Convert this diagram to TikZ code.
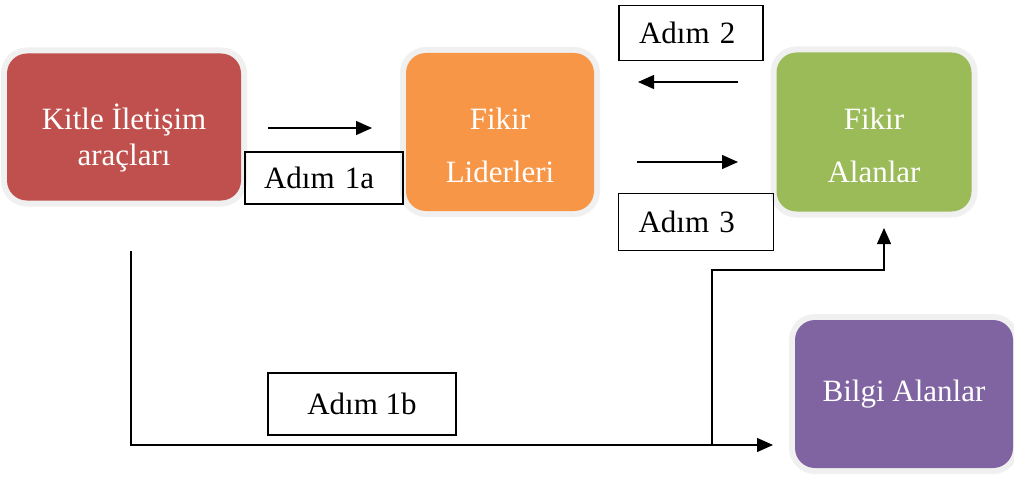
\documentclass[tikz,border=0pt]{standalone}
\usepackage{fontspec}
\setmainfont{Liberation Serif}
\usetikzlibrary{arrows.meta}

\definecolor{kitlered}{HTML}{C0504D}
\definecolor{liderorange}{HTML}{F79646}
\definecolor{alangreen}{HTML}{9BBB59}
\definecolor{bilgipurple}{HTML}{8064A2}
\definecolor{glowgray}{HTML}{F0F0F0}

\tikzset{
  kutu/.style={rounded corners=20pt, text=white, align=center,
    preaction={draw=glowgray, line width=12pt}},
  adim/.style={draw, line width=1.2pt, font=\fontsize{31}{36}\selectfont,
    inner ysep=0pt},
  ok/.style={line width=1.3pt, -{Triangle[length=16pt,width=14pt]}}
}
% strut that pushes two-line box texts a little lower
\newcommand{\ustpay}{\rule{0pt}{48pt}}

\begin{document}
\begin{tikzpicture}[x=1pt,y=-1pt]
\useasboundingbox (0,0) rectangle (1014,484);

% colored boxes
\node[kutu, fill=kitlered, minimum width=234, minimum height=147,
  font=\fontsize{31}{36}\selectfont] (kitle) at (124,127)
  {\ustpay Kitle İletişim\\araçları};
\node[kutu, fill=liderorange, minimum width=188, minimum height=158,
  font=\fontsize{31}{53}\selectfont] (lider) at (500,132)
  {\ustpay Fikir\\Liderleri};
\node[kutu, fill=alangreen, minimum width=195, minimum height=159,
  font=\fontsize{31}{53}\selectfont] (fikiralan) at (874,132)
  {\ustpay Fikir\\Alanlar};
\node[kutu, fill=bilgipurple, minimum width=218, minimum height=148,
  font=\fontsize{31}{36}\selectfont] (bilgialan) at (904,394) {Bilgi Alanlar};

% step labels
\node[adim, minimum height=52, text width=120, inner xsep=19, align=left]
  (adim1a) at (324,178) {Adım 1a};
\node[adim, minimum height=55, text width=104, inner xsep=20, align=left]
  (adim2) at (691,33) {Adım 2};
\node[adim, minimum height=57, text width=115, inner xsep=20, align=left]
  (adim3) at (696,222) {Adım 3};
\node[adim, minimum width=188, minimum height=62] (adim1b) at (362,404) {Adım 1b};

% arrow ends
\coordinate (a1s) at (268,128);
\coordinate (a1e) at (372,128);
\coordinate (a2s) at (738,82);
\coordinate (a2e) at (638,82);
\coordinate (a3s) at (637,162);
\coordinate (a3e) at (738,162);
\coordinate (b1s) at (131,251);
\coordinate (b1k) at (131,445);
\coordinate (b1e) at (773,445);
\coordinate (dal) at (712,445);
\coordinate (dalk) at (712,270);
\coordinate (dale) at (884,228);

\draw[ok] (a1s) -- (a1e);
\draw[ok] (a2s) -- (a2e);
\draw[ok] (a3s) -- (a3e);
\draw[ok] (b1s) -- (b1k) -- (b1e);
\draw[ok] (dal) -- (dalk) -| (dale);
\end{tikzpicture}
\end{document}
